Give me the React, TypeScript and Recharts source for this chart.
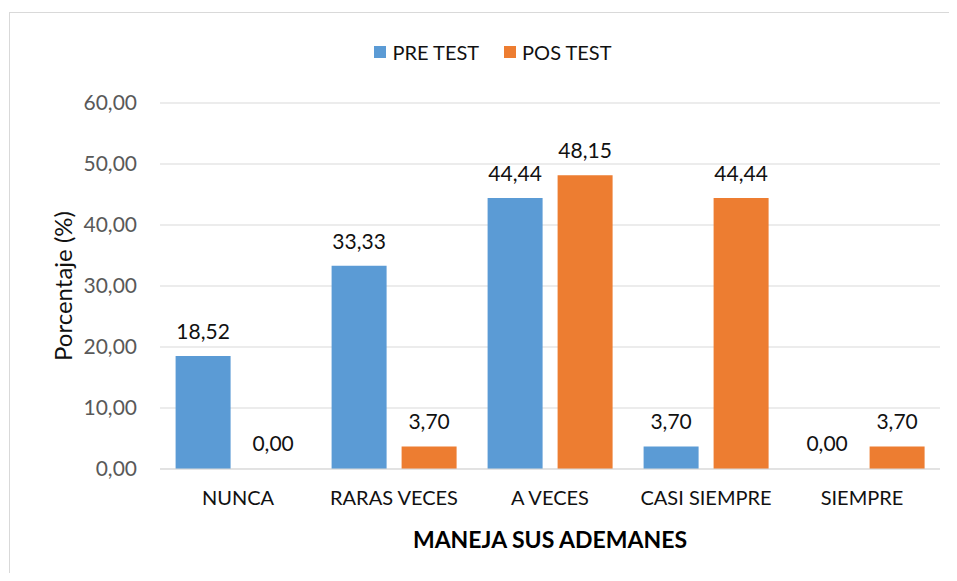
import React from "react";
import { BarChart, Bar, XAxis, YAxis, CartesianGrid, Legend, LabelList, Label, Rectangle } from "recharts";

// Data
const categories = ["NUNCA", "RARAS VECES", "A VECES", "CASI SIEMPRE", "SIEMPRE"];
const preTest = [18.52, 33.33, 44.44, 3.7, 0];
const posTest = [0, 3.7, 48.15, 44.44, 3.7];
const yTicks = [0, 10, 20, 30, 40, 50, 60];

const data = categories.map((name, i) => ({ name, pre: preTest[i], pos: posTest[i] }));

const BLUE = "#5B9BD5";
const ORANGE = "#ED7D31";
const GRID = "#D9D9D9";
const FONT = "Lato, 'Open Sans', sans-serif";

const fmt = (v: number) => v.toFixed(2).replace(".", ",");

// zero values still get a label, but no visible bar
const barShape = (key: "pre" | "pos") => (props: any) =>
    props.payload && props.payload[key] === 0 ? <g /> : <Rectangle {...props} />;

function LegendContent() {
    const items = [
        { label: "PRE TEST", color: BLUE },
        { label: "POS TEST", color: ORANGE },
    ];
    return (
        <div
            style={{
                height: 66,
                display: "flex",
                justifyContent: "center",
                alignItems: "flex-start",
                paddingRight: 34,
            }}
        >
            {items.map((it, i) => (
                <div
                    key={it.label}
                    style={{ display: "flex", alignItems: "center", height: 30, marginLeft: i ? 25 : 0 }}
                >
                    <span style={{ width: 12, height: 12, background: it.color, marginRight: 6 }} />
                    <span style={{ fontSize: 20, color: "#111", fontFamily: FONT }}>{it.label}</span>
                </div>
            ))}
        </div>
    );
}

export default function App() {
    return (
        <div
            style={{
                position: "relative",
                width: 957,
                height: 581,
                margin: -8,
                overflow: "hidden",
                background: "#fff",
                fontFamily: FONT,
            }}
        >
            <div
                style={{
                    position: "absolute",
                    left: 9,
                    top: 12,
                    width: 1000,
                    height: 1000,
                    border: `1px solid ${GRID}`,
                }}
            />
            <BarChart
                width={957}
                height={581}
                data={data}
                margin={{ top: 37, right: 17, left: 80, bottom: 52 }}
                barCategoryGap="10%"
                barGap={15}
                style={{ position: "absolute", left: 0, top: 0 }}
            >
                <CartesianGrid vertical={false} stroke={GRID} />
                <Legend verticalAlign="top" content={() => <LegendContent />} />
                <XAxis
                    dataKey="name"
                    height={60}
                    axisLine={{ stroke: GRID }}
                    tickLine={false}
                    tickSize={0}
                    tickMargin={22}
                    tick={{ fill: "#111", fontSize: 20, fontFamily: FONT }}
                >
                    <Label
                        content={({ viewBox }: any) => (
                            <text
                                x={viewBox.x + viewBox.width / 2}
                                y={viewBox.y + 79}
                                textAnchor="middle"
                                fill="#000"
                                fontSize={23}
                                fontWeight="bold"
                                fontFamily={FONT}
                            >
                                MANEJA SUS ADEMANES
                            </text>
                        )}
                    />
                </XAxis>
                <YAxis
                    width={80}
                    domain={[0, 60]}
                    ticks={yTicks}
                    axisLine={false}
                    tickLine={false}
                    tickSize={0}
                    tickMargin={23}
                    tickFormatter={fmt}
                    tick={{ fill: "#595959", fontSize: 21, fontFamily: FONT }}
                >
                    <Label
                        content={({ viewBox }: any) => {
                            const cx = viewBox.x - 18;
                            const cy = viewBox.y + viewBox.height / 2;
                            return (
                                <text
                                    x={cx}
                                    y={cy}
                                    transform={`rotate(-90 ${cx} ${cy})`}
                                    textAnchor="middle"
                                    dominantBaseline="central"
                                    fill="#111"
                                    fontSize={24}
                                    fontFamily={FONT}
                                >
                                    Porcentaje (%)
                                </text>
                            );
                        }}
                    />
                </YAxis>
                <Bar
                    dataKey="pre"
                    name="PRE TEST"
                    fill={BLUE}
                    minPointSize={1}
                    shape={barShape("pre")}
                    isAnimationActive={false}
                >
                    <LabelList
                        dataKey="pre"
                        position="top"
                        offset={17}
                        formatter={(v: any) => fmt(Number(v))}
                        style={{ fill: "#111", fontSize: 21, fontFamily: FONT }}
                    />
                </Bar>
                <Bar
                    dataKey="pos"
                    name="POS TEST"
                    fill={ORANGE}
                    minPointSize={1}
                    shape={barShape("pos")}
                    isAnimationActive={false}
                >
                    <LabelList
                        dataKey="pos"
                        position="top"
                        offset={17}
                        formatter={(v: any) => fmt(Number(v))}
                        style={{ fill: "#111", fontSize: 21, fontFamily: FONT }}
                    />
                </Bar>
            </BarChart>
        </div>
    );
}
